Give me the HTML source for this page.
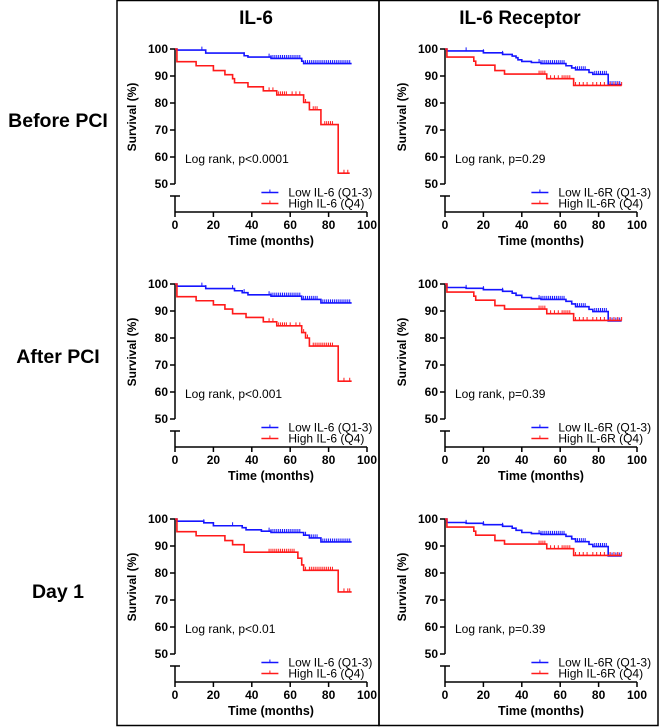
<!DOCTYPE html>
<html><head><meta charset="utf-8"><style>
html,body{margin:0;padding:0;background:#fff;}
svg{display:block;font-family:"Liberation Sans",Arial,sans-serif;}
</style></head><body>
<svg id="fig" width="661" height="727" viewBox="0 0 661 727">
<rect x="117" y="0.5" width="262" height="725" fill="none" stroke="#000" stroke-width="1.5"/>
<rect x="379" y="0.5" width="279" height="725" fill="none" stroke="#000" stroke-width="1.5"/>
<text x="256" y="24" font-size="19" font-weight="bold" text-anchor="middle">IL-6</text>
<text x="520" y="24" font-size="19" font-weight="bold" text-anchor="middle">IL-6 Receptor</text>
<text x="58" y="127" font-size="19.5" font-weight="bold" text-anchor="middle">Before PCI</text>
<text x="58" y="363" font-size="19.5" font-weight="bold" text-anchor="middle">After PCI</text>
<text x="58" y="598" font-size="19.5" font-weight="bold" text-anchor="middle">Day 1</text>
</svg>
<script>
// ---- data ----
const xTicks=[0,20,40,60,80,100];
const yTicks=[50,60,70,80,90,100];
const il6BeforeLow=[[0,100],[1,99.6],[16,98.5],[36,97.5],[38,97],[50,96.5],[66,95.5],[67,94.6],[92,94.6]];
const il6BeforeLowCens=[14,16,36,49,50,51,52,53,54,55,56,57,58,59,60,61,62,63,64,65,68,69,70,71,72,73,74,75,76,77,78,79,80,81,82,83,84,85,86,87,88,89,90,91];
const il6BeforeHigh=[[0,100],[1,95.3],[11,93.8],[20,92],[26,90.5],[30,89],[31,87.5],[38,86],[46,84.5],[53,83],[67,80.2],[70,77.5],[76,72],[85,54],[91,54]];
const il6BeforeHighCens=[49,51,53,54,55,56,57,58,61,63,65,68,72,73,74,78,79,80,81,82,88,90];
const il6rBeforeLow=[[0,100],[1,99.3],[20,98.6],[30,98],[35,97.4],[37,96.8],[38,96],[40,95.4],[45,95],[50,94.6],[63,93.8],[66,93],[68,92.3],[75,91.3],[77,90.6],[85,86.8],[92,86.8]];
const il6rBeforeLowCens=[11,20,30,49,50,51,52,53,54,55,56,57,58,59,60,61,62,68,69,70,71,72,73,78,79,80,81,82,83,84,86,87,88,89,90,91];
const il6rBeforeHigh=[[0,100],[1,97],[14,97],[15,95.5],[16,94],[26,92],[31,90.7],[53,89],[67,86.5],[92,86.5]];
const il6rBeforeHighCens=[49,50,51,52,55,57,59,61,62,63,64,65,68,70,72,74,77,79,81,83,86,88,90,92];
const il6AfterLow=[[0,100],[1,99.2],[16,98.3],[31,97.5],[35,96.8],[38,96],[50,95.5],[66,94.3],[76,93],[92,93]];
const il6AfterLowCens=[14,16,30,36,49,50,51,52,53,54,55,56,57,58,59,60,61,62,63,64,65,67,68,69,70,71,72,73,74,77,78,79,80,81,82,83,84,85,86,87,88,89,90,91];
const il6AfterHigh=[[0,100],[1,95.3],[11,93.8],[20,92.3],[26,90.7],[30,89],[37,87.6],[46,86],[53,84.5],[66,82],[68,80],[70,77],[85,64],[92,64]];
const il6AfterHighCens=[49,51,53,54,55,56,57,58,60,63,65,67,69,72,73,74,75,76,77,78,79,80,81,82,88,91];
const il6rAfterLow=[[0,100],[1,98.7],[11,98.4],[20,97.9],[30,97.3],[35,96.6],[37,95.8],[40,95],[45,94.6],[50,94.3],[63,93.6],[66,92.6],[68,91.6],[75,90.6],[77,89.8],[85,86.3],[92,86.3]];
const il6rAfterLowCens=il6rBeforeLowCens;
const il6rAfterHigh=[[0,100],[1,97],[14,97],[15,95.5],[16,94],[26,92],[31,90.7],[53,89],[67,86.5],[92,86.5]];
const il6rAfterHighCens=il6rBeforeHighCens;
const il6Day1Low=[[0,100],[1,99.2],[15,98.6],[20,97.5],[35,96.8],[37,96],[45,95.5],[50,95],[67,94],[70,93],[76,91.5],[92,91.5]];
const il6Day1LowCens=[15,30,49,50,51,52,53,54,55,56,57,58,59,60,61,62,63,64,65,68,71,72,73,74,77,78,79,80,81,82,83,84,85,86,87,88,89,90,91];
const il6Day1High=[[0,100],[1,95.3],[11,93.8],[26,92],[30,90.5],[36,87.7],[64,85.5],[66,83],[67,81],[85,73],[92,73]];
const il6Day1HighCens=[49,50,51,52,53,54,55,56,57,58,59,60,61,62,68,70,71,72,73,74,75,76,77,78,79,80,81,82,88,90,91];
const il6rDay1Low=il6rAfterLow, il6rDay1LowCens=il6rBeforeLowCens;
const il6rDay1High=il6rAfterHigh, il6rDay1HighCens=il6rBeforeHighCens;
const pLabels=["Log rank, p<0.0001","Log rank, p=0.29","Log rank, p<0.001","Log rank, p=0.39","Log rank, p<0.01","Log rank, p=0.39"];

const NS="http://www.w3.org/2000/svg";
const svg=document.getElementById('fig');
function mk(tag,attrs,parent){const e=document.createElementNS(NS,tag);for(const k in attrs)e.setAttribute(k,attrs[k]);(parent||svg).appendChild(e);return e;}

function panel(ox,oy,name,low,lowC,high,highC,pLabel,lowName,highName){
  const g=mk('g',{});
  
  
  const W=192,top=oy,bot50=oy+135,base=oy+163;
  const X=t=>ox+t/100*W;
  const Y=v=>top+(100-v)/50*135;
  const ya=mk('path',{d:`M${ox},${top} V${bot50} M${ox},${base-16} V${base}`,stroke:'#000','stroke-width':1.5,fill:'none'},g);
  
  
  mk('line',{x1:ox-5,x2:ox+5,y1:base-16,y2:base-16,stroke:'#000','stroke-width':1.5},g);
  yTicks.forEach(v=>{
    mk('line',{x1:ox-5,x2:ox,y1:Y(v),y2:Y(v),stroke:'#000','stroke-width':1.5},g);
    const t=mk('text',{x:ox-7,y:Y(v)+4,'font-size':12,'font-weight':'bold','text-anchor':'end'},g);
    t.textContent=v;
    
    
  });
  const xa=mk('line',{x1:ox,x2:ox+W,y1:base,y2:base,stroke:'#000','stroke-width':1.5},g);
  
  
  xTicks.forEach(v=>{
    mk('line',{x1:X(v),x2:X(v),y1:base,y2:base+5,stroke:'#000','stroke-width':1.5},g);
    const t=mk('text',{x:X(v),y:base+17,'font-size':12,'font-weight':'bold','text-anchor':'middle'},g);
    t.textContent=v;
    
    
  });
  const xt=mk('text',{x:ox+W/2,y:base+33,'font-size':12.5,'font-weight':'bold','text-anchor':'middle'},g);
  xt.textContent='Time (months)';
  
  
  const yt=mk('text',{x:0,y:0,'font-size':12,'font-weight':'bold','text-anchor':'middle',transform:`translate(${ox-39},${top+68}) rotate(-90)`},g);
  yt.textContent='Survival (%)';
  
  
  const pt=mk('text',{x:ox+10,y:top+114,'font-size':12},g);
  pt.textContent=pLabel;
  
  
  function curve(pts,cens,color,nm){
    let d=`M${X(pts[0][0])},${Y(pts[0][1])}`;
    for(let i=1;i<pts.length;i++){d+=` H${X(pts[i][0])} V${Y(pts[i][1])}`;}
    const p=mk('path',{d,stroke:color,'stroke-width':1.6,fill:'none'},g);
    
    
    const sv=t=>{let v=pts[0][1];for(const q of pts){if(q[0]<=t)v=q[1];}return v;};
    let cd='';
    cens.forEach(t=>{const y=Y(sv(t));cd+=`M${X(t)},${y} V${y-3.5} `;});
    const c=mk('path',{d:cd,stroke:color,'stroke-width':1,fill:'none'},g);
    
    
  }
  curve(low,lowC,'#1515ff','low-group');
  curve(high,highC,'#ff1a1a','high-group');
  const lx=ox+W*0.45;
  [[lowName,'#1515ff',top+143.5],[highName,'#ff1a1a',top+154.5]].forEach(([n,c,y],i)=>{
    mk('line',{x1:lx,x2:lx+17,y1:y,y2:y,stroke:c,'stroke-width':1.6},g);
    mk('line',{x1:lx+8.5,x2:lx+8.5,y1:y,y2:y-3,stroke:c,'stroke-width':1},g);
    const t=mk('text',{x:lx+27,y:y+4,'font-size':12},g);
    t.textContent=n;
    
    
  });
}
const L=175,R=445;
panel(L,49,'il6-before-pci-chart',il6BeforeLow,il6BeforeLowCens,il6BeforeHigh,il6BeforeHighCens,pLabels[0],'Low IL-6 (Q1-3)','High IL-6 (Q4)');
panel(R,49,'il6r-before-pci-chart',il6rBeforeLow,il6rBeforeLowCens,il6rBeforeHigh,il6rBeforeHighCens,pLabels[1],'Low IL-6R (Q1-3)','High IL-6R (Q4)');
panel(L,284,'il6-after-pci-chart',il6AfterLow,il6AfterLowCens,il6AfterHigh,il6AfterHighCens,pLabels[2],'Low IL-6 (Q1-3)','High IL-6 (Q4)');
panel(R,284,'il6r-after-pci-chart',il6rAfterLow,il6rAfterLowCens,il6rAfterHigh,il6rAfterHighCens,pLabels[3],'Low IL-6R (Q1-3)','High IL-6R (Q4)');
panel(L,519,'il6-day1-chart',il6Day1Low,il6Day1LowCens,il6Day1High,il6Day1HighCens,pLabels[4],'Low IL-6 (Q1-3)','High IL-6 (Q4)');
panel(R,519,'il6r-day1-chart',il6rDay1Low,il6rDay1LowCens,il6rDay1High,il6rDay1HighCens,pLabels[5],'Low IL-6R (Q1-3)','High IL-6R (Q4)');
</script>
</body></html>
